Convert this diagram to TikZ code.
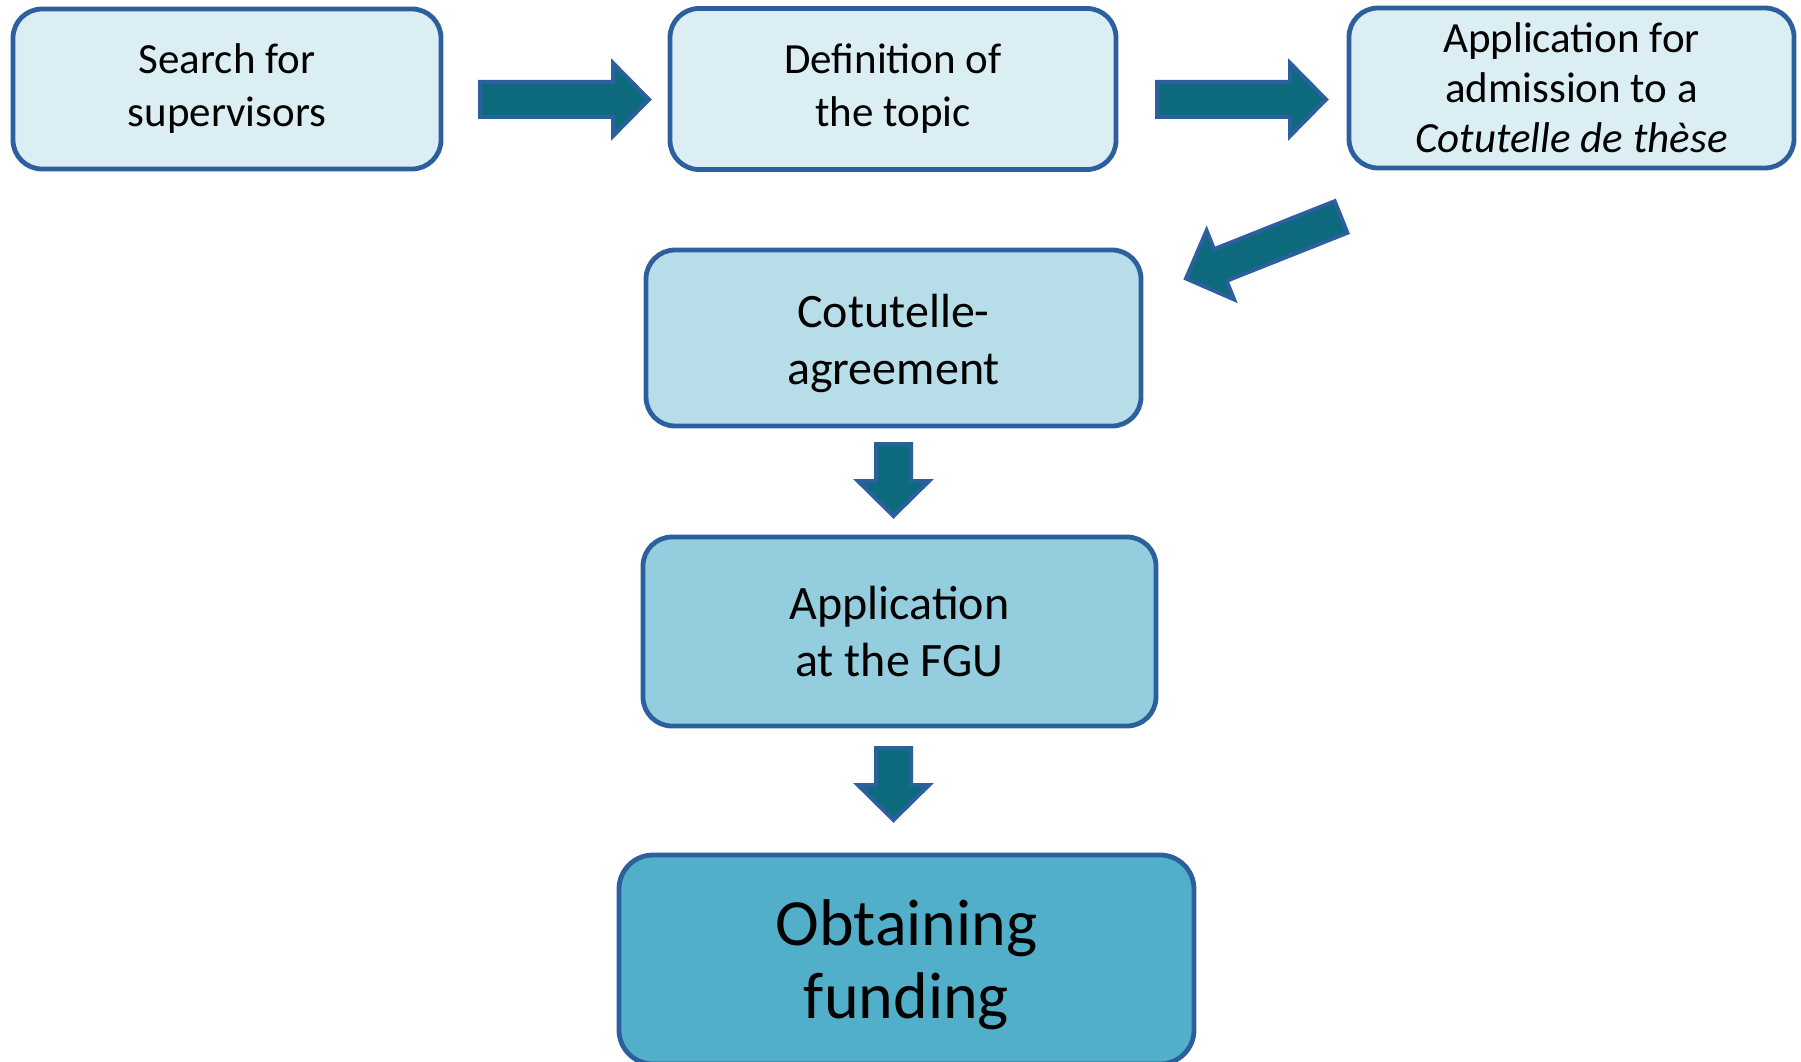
\documentclass[tikz,border=0pt]{standalone}
\usepackage{fontspec}
\setmainfont{Carlito}
\definecolor{boxA}{HTML}{DBEEF4}
\definecolor{boxB}{HTML}{B7DEE8}
\definecolor{boxC}{HTML}{94CDDD}
\definecolor{boxD}{HTML}{52AFC9}
\definecolor{edge}{HTML}{2C5F9E}
\definecolor{arrowfill}{HTML}{0D6A7C}
\begin{document}
\begin{tikzpicture}[x=1pt,y=-1pt,
  stepbox/.style={draw=edge, line width=4.8pt, rounded corners=29pt, align=center, inner sep=0pt},
  blockarrow/.style={draw=edge, fill=arrowfill, line width=4pt, line join=miter}]
\useasboundingbox (0,0) rectangle (1801,1062);
\node[stepbox, fill=boxA, minimum width=428pt, minimum height=160pt,
  font=\fontsize{43}{53}\selectfont] (s1) at (227,89) {Search for\\supervisors};
\node[stepbox, fill=boxA, minimum width=446pt, minimum height=161pt,
  font=\fontsize{43}{53}\selectfont] (s2) at (893,89) {Definition of\\the topic};
\node[stepbox, fill=boxA, minimum width=445pt, minimum height=160pt,
  font=\fontsize{43}{50}\selectfont] (s3) at (1571.5,88) {Application for\\admission to a\\\textit{Cotutelle de thèse}};
\node[stepbox, fill=boxB, minimum width=495pt, minimum height=176pt,
  font=\fontsize{48}{57}\selectfont] (s4) at (893.5,338) {\rule{0pt}{44pt}Cotutelle-\\agreement};
\node[stepbox, fill=boxC, minimum width=513pt, minimum height=189pt,
  font=\fontsize{48}{57}\selectfont] (s5) at (899.5,631.5) {Application\\at the FGU};
\node[stepbox, fill=boxD, rounded corners=34pt, minimum width=575pt, minimum height=209pt,
  font=\fontsize{66}{73}\selectfont] (s6) at (906.5,959.5) {\rule{0pt}{56pt}Obtaining\\funding};
% right arrows
\draw[blockarrow] (480,82) -- (613,82) -- (613,63) -- (649,99.5) -- (613,136) -- (613,117) -- (480,117) -- cycle;
\draw[blockarrow] (1157,82) -- (1290,82) -- (1290,63) -- (1326,99.5) -- (1290,136) -- (1290,117) -- (1157,117) -- cycle;
% diagonal arrow
\draw[blockarrow] (1347.3,232.8) -- (1334.7,201.2) -- (1214.0,249.2) -- (1206.6,230.6) -- (1186,278.5) -- (1234.0,299.4) -- (1226.6,280.8) -- cycle;
% down arrows
\draw[blockarrow] (876,444) -- (911,444) -- (911,481) -- (929,481) -- (893.5,516) -- (858,481) -- (876,481) -- cycle;
\draw[blockarrow] (876,748) -- (911,748) -- (911,785) -- (929,785) -- (893.5,820) -- (858,785) -- (876,785) -- cycle;
\end{tikzpicture}
\end{document}
